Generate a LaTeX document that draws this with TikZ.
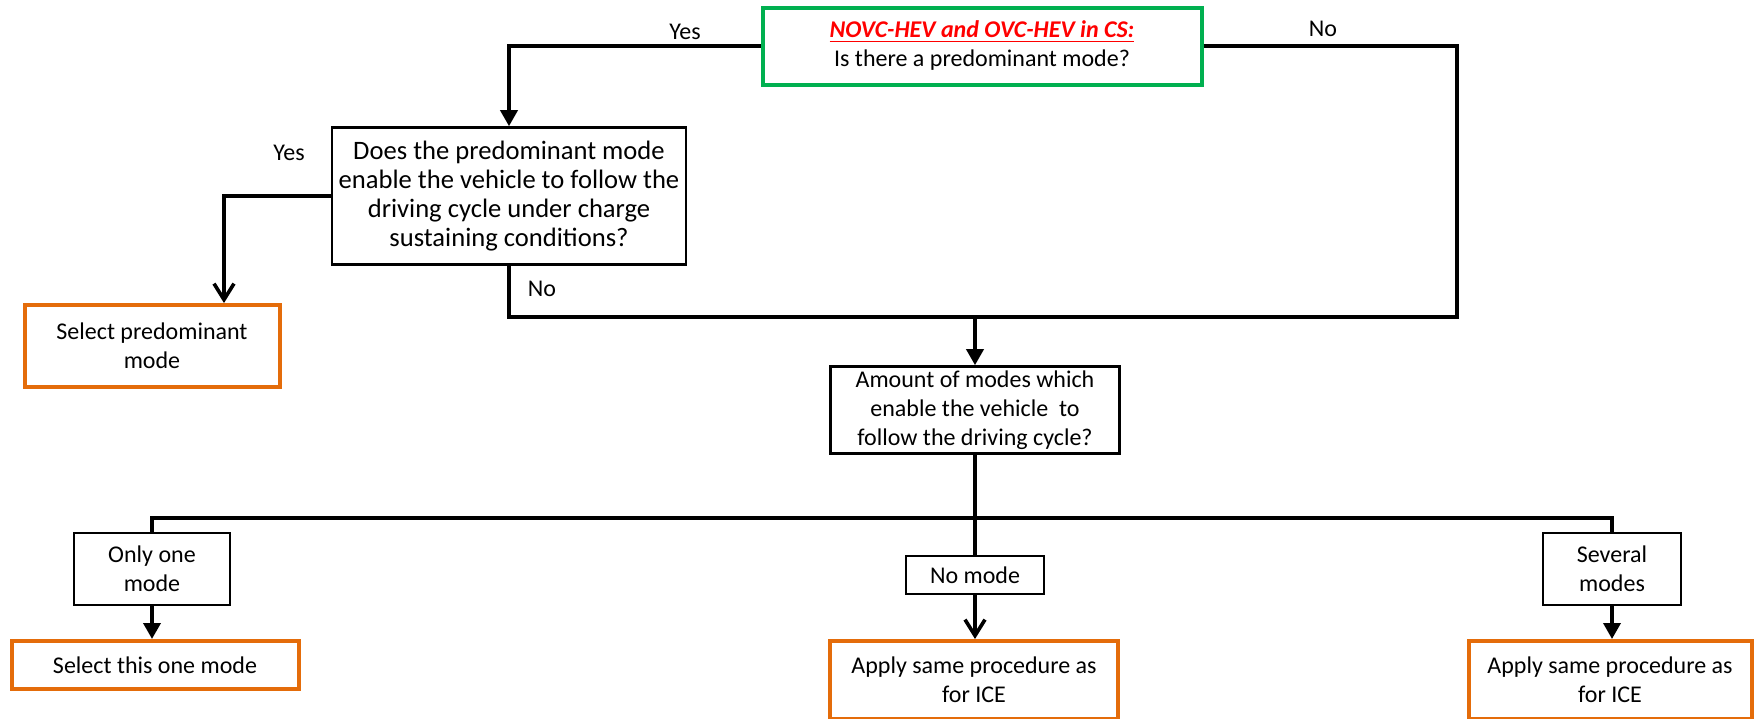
\documentclass[tikz,border=0pt]{standalone}
\usepackage{fontspec}
\setmainfont{Carlito}
\usetikzlibrary{arrows.meta}
\definecolor{boxgreen}{RGB}{0,176,80}
\definecolor{boxorange}{RGB}{228,108,10}
\begin{document}
\begin{tikzpicture}[x=0.5pt,y=-0.5pt,
  font=\fontsize{12}{14.5}\selectfont,
  box/.style={draw, line width=1.3pt, align=center, inner sep=0pt},
  startbox/.style={box, draw=boxgreen, line width=2pt},
  endbox/.style={box, draw=boxorange, line width=2pt},
  line/.style={line width=1.8pt},
  tri/.style={line, -{Triangle[length=8pt,width=8.5pt]}},
  barb/.style={line, -{Straight Barb[length=8pt,width=10pt]}}]
\useasboundingbox (0,0) rectangle (1757,718);
\node[startbox, minimum width=219.5pt, minimum height=38.5pt] (start) at (982,46)
  {{\color{red}\bfseries\itshape\underline{NOVC-HEV and OVC-HEV in CS:}}\\Is there a predominant mode?};
\node[box, minimum width=177pt, minimum height=68.5pt, font=\fontsize{13.3}{14.5}\selectfont] (predom) at (509,196)
  {Does the predominant mode\\enable the vehicle to follow the\\driving cycle under charge\\sustaining conditions?};
\node[endbox, minimum width=127.5pt, minimum height=41pt] (selpred) at (152,346) {Select predominant\\mode};
\node[box, minimum width=144.5pt, minimum height=43.5pt] (amount) at (975,410)
  {Amount of modes which\\enable the vehicle\ \ to\\follow the driving cycle?};
\node[box, minimum width=78pt, minimum height=36pt] (onlyone) at (152,569) {Only one\\mode};
\node[box, minimum width=69pt, minimum height=19pt] (nomode) at (975,575) {No mode};
\node[box, minimum width=69pt, minimum height=36pt] (several) at (1612,569) {Several\\modes};
\node[endbox, minimum width=143.5pt, minimum height=24pt] (selone) at (155,665) {Select this one mode};
\node[endbox, minimum width=144pt, minimum height=39pt] (applyice) at (974,680) {Apply same procedure as\\for ICE};
\node[endbox, minimum width=141.5pt, minimum height=39pt] (applyicetoo) at (1610,680) {Apply same procedure as\\for ICE};
% labels
\node (yestop) at (685,32) {Yes};
\node (notop) at (1323,29) {No};
\node (yesleft) at (289,153) {Yes};
\node (nobottom) at (542,289) {No};
% connectors
\coordinate (noturn) at (1457,317);
\coordinate (split) at (975,518);
\draw[tri] (start.west) -| (predom.north);
\draw[barb] (predom.west) -| ([xshift=36pt]selpred.north);
\draw[line] (start.east) -| (noturn) -- (predom.south |- noturn) -- (predom.south);
\draw[tri] (amount.north |- noturn) -- (amount.north);
\draw[line] (amount.south) -- (nomode.north);
\draw[line] (onlyone.north) |- (split) -| (several.north);
\draw[tri] (onlyone.south) -- (onlyone.south |- selone.north);
\draw[barb] (nomode.south) -- (nomode.south |- applyice.north);
\draw[tri] (several.south) -- (several.south |- applyicetoo.north);
\end{tikzpicture}
\end{document}
